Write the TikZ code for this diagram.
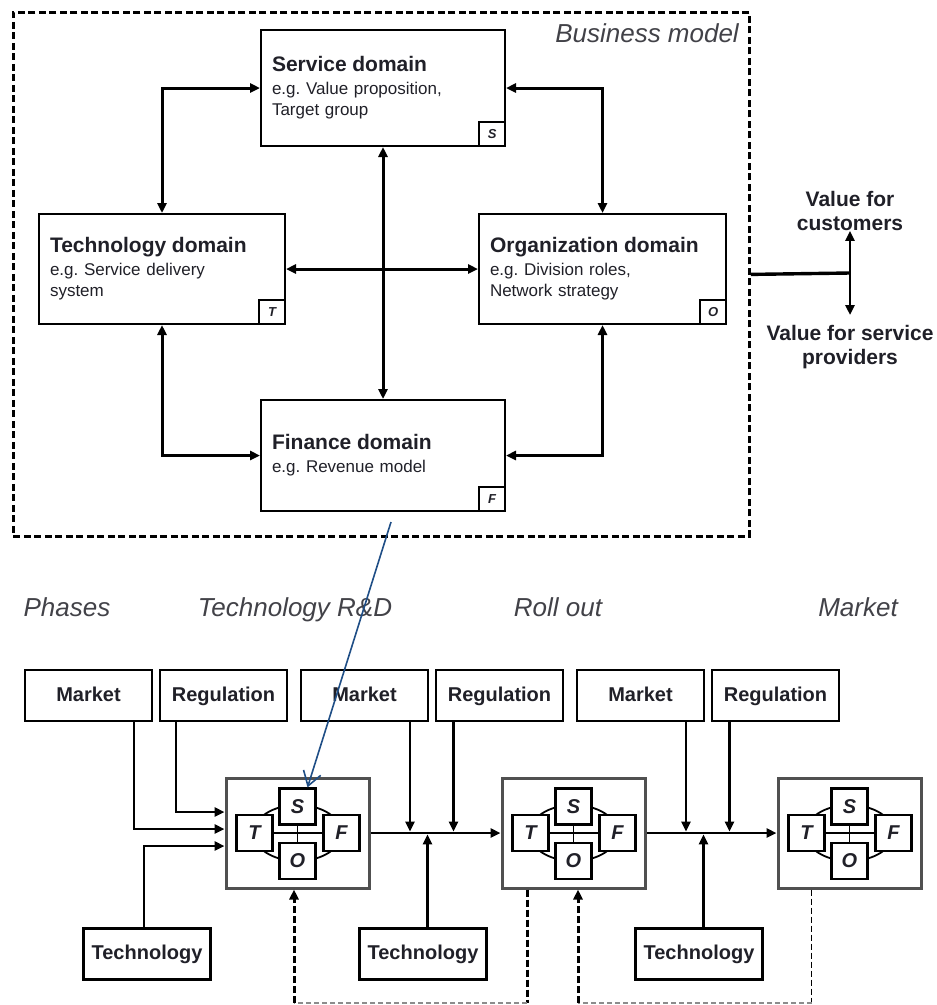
\documentclass[tikz,border=0pt]{standalone}
\usepackage{fontspec}
\setmainfont{Liberation Sans}
\usepackage{tikz}
\usetikzlibrary{arrows.meta, positioning, calc, backgrounds}
\definecolor{ink}{HTML}{202028}
\definecolor{framegray}{HTML}{505050}
\definecolor{linkblue}{HTML}{1F4E86}
\definecolor{trailgray}{HTML}{8C8C8C}

\newcommand{\titlefont}{\fontsize{21}{24}\selectfont\bfseries}
\newcommand{\notefont}{\fontsize{17}{21}\selectfont}
\newcommand{\phasefont}{\fontsize{26}{30}\selectfont\itshape}
\newcommand{\boxfont}{\fontsize{20}{24}\selectfont\bfseries}
\frenchspacing

\begin{document}
\begin{tikzpicture}[x=1pt, y=-1pt,
    dombox/.style={draw, line width=2pt, anchor=north west, align=left,
      inner xsep=11pt, font=\notefont, text=ink},
    cornertag/.style={draw, line width=1.6pt, anchor=south east, minimum width=26pt,
      minimum height=24pt, inner sep=0pt, text=ink,
      font=\fontsize{13}{13}\selectfont\bfseries\itshape},
    twoway/.style={line width=3pt,
      {Triangle[length=10pt,width=9pt]}-{Triangle[length=10pt,width=9pt]}},
    flow/.style={line width=2.8pt, -{Triangle[length=10pt,width=9pt]}},
    factorbox/.style={draw, line width=2.2pt, minimum width=127pt, minimum height=51pt,
      inner sep=0pt, text height=15pt, text depth=4pt, font=\boxfont, text=ink},
    phasebox/.style={draw=framegray, line width=3pt, minimum width=143pt,
      minimum height=110pt, inner sep=0pt},
    unitbox/.style={draw, fill=white, line width=2.2pt, minimum size=36pt, inner sep=0pt,
      text=ink, font=\fontsize{20}{20}\selectfont\bfseries\itshape},
    phasetitle/.style={font=\phasefont, text=ink!85, inner sep=0pt, anchor=base},
    heavydash/.style={line width=3pt, dash pattern=on 7pt off 3pt},
    thindash/.style={line width=1.5pt, dash pattern=on 6pt off 3pt},
    lightdash/.style={trailgray, line width=1.3pt, dash pattern=on 5pt off 3pt}]
  \useasboundingbox (0,0) rectangle (937,1005);

  % Business model frame
  \node[draw, line width=2.8pt, dash pattern=on 7pt off 3.5pt, minimum width=736pt,
    minimum height=524pt, anchor=north west, inner sep=0pt] (bm) at (12,11) {};
  \node[phasetitle, anchor=base east] (bmtitle) at (739,42) {Business model};

  % Domains
  \node[dombox, text width=222pt, minimum height=116pt] (svc) at (260,29)
    {{\titlefont Service domain}\\[2pt] e.g. Value proposition,\\ Target group};
  \node[dombox, text width=224pt, minimum height=110pt] (tec) at (38,213)
    {{\titlefont Technology domain}\\[2pt] e.g. Service delivery\\ system};
  \node[dombox, text width=225pt, minimum height=110pt] (org) at (478,213)
    {{\titlefont Organization domain}\\[2pt] e.g. Division roles,\\ Network strategy};
  \node[dombox, text width=222pt, minimum height=111pt] (fin) at (260,399)
    {{\titlefont Finance domain}\\[2pt] e.g. Revenue model};
  \node[cornertag] (svctag) at (svc.south east) {S};
  \node[cornertag] (tectag) at (tec.south east) {T};
  \node[cornertag] (orgtag) at (org.south east) {O};
  \node[cornertag] (fintag) at (fin.south east) {F};

  \draw[twoway] (svc.west) -| (tec.north);
  \draw[twoway] (svc.east) -| (org.north);
  \draw[twoway] (tec.south) |- (fin.west);
  \draw[twoway] (org.south) |- (fin.east);
  \draw[twoway] (svc.south) -- (fin.north);
  \draw[twoway] (tec.east) -- (org.west);

  % Value split
  \coordinate (split) at (850,273);
  \node[font=\titlefont, align=center, text=ink, inner sep=0pt] (vcust) at (850,211)
    {Value for\\customers};
  \node[font=\titlefont, align=center, text=ink, inner xsep=0pt, inner ysep=10pt,
    anchor=north] (vprov) at (850,315) {Value for service\\providers};
  \draw[line width=3.4pt] (bm.east) -- (split);
  \draw[flow] (split) -- (vcust.south);
  \draw[flow] (split) -- (vprov.north);

  % Phases
  \node[phasetitle] (phases) at (67,616) {Phases};
  \node[phasetitle] (rnd) at (295,616) {Technology R\&D};
  \node[phasetitle] (rollout) at (558,616) {Roll out};
  \node[phasetitle] (market) at (858,616) {Market};

  \foreach \i in {1,2,3} {
    \pgfmathsetmacro{\dx}{276*(\i-1)}
    \node[factorbox] (mkt\i) at (88.5+\dx,695.5) {Market};
    \node[factorbox] (reg\i) at (223.5+\dx,695.5) {Regulation};
    \node[factorbox] (tech\i) at (147+\dx,954) {Technology};
    \node[phasebox] (ph\i) at (297.5+\dx,833) {};
    \node[unitbox] (s\i) at ([yshift=26.5pt]ph\i.center) {S};
    \node[unitbox] (t\i) at ([xshift=-43pt]ph\i.center) {T};
    \node[unitbox] (f\i) at ([xshift=44pt]ph\i.center) {F};
    \node[unitbox] (o\i) at ([yshift=-28pt]ph\i.center) {O};
    \begin{scope}[on background layer]
      \draw[line width=1.8pt] (ph\i.center) ellipse [x radius=44pt, y radius=28pt];
      \draw[line width=1.8pt] (t\i) -- (f\i) (s\i) -- (o\i);
    \end{scope}
  }

  % Inputs of the first phase
  \draw[flow] ([xshift=-47.5pt]reg1.south) |- ([yshift=21pt]ph1.west);
  \draw[flow] ([xshift=45.5pt]mkt1.south) |- ([yshift=4pt]ph1.west);
  \draw[flow] ([xshift=-3pt]tech1.north) |- ([yshift=-13pt]ph1.west);

  % Flow between phases
  \foreach \i/\h in {2/1, 3/2} {
    \draw[flow] (ph\h.east) -- (ph\i.west);
    \coordinate (mdrop\i) at ([xshift=45.5pt]mkt\i.south);
    \coordinate (rdrop\i) at ([xshift=-46pt]reg\i.south);
    \coordinate (trise\i) at ([xshift=4.5pt]tech\i.north);
    \draw[flow] (mdrop\i) -- ([yshift=1.4pt]mdrop\i |- ph\i.west);
    \draw[flow] (rdrop\i) -- ([yshift=1.4pt]rdrop\i |- ph\i.west);
    \draw[flow] (trise\i) -- ([yshift=-1.4pt]trise\i |- ph\i.west);
  }

  % Feedback loops
  \coordinate (floor) at (0,1003);
  \coordinate (back2) at ([xshift=-46.5pt]ph2.south);
  \coordinate (into1) at ([xshift=-3.5pt]ph1.south);
  \coordinate (back3) at ([xshift=-38pt]ph3.south);
  \coordinate (into2) at ([xshift=4.5pt]ph2.south);
  \draw[heavydash] (back2) -- (back2 |- floor);
  \draw[lightdash] (back2 |- floor) -- (into1 |- floor);
  \draw[heavydash, -{Triangle[length=10pt,width=9pt]}] (into1 |- floor) -- (into1);
  \draw[thindash] (back3) -- (back3 |- floor);
  \draw[lightdash] (back3 |- floor) -- (into2 |- floor);
  \draw[heavydash, -{Triangle[length=10pt,width=9pt]}] (into2 |- floor) -- (into2);

  % Link to the business model
  \coordinate (finlink) at (391,522);
  \draw[linkblue, line width=1.6pt, -{Straight Barb[length=14pt,width=18pt]}]
    (finlink) -- ([xshift=10pt]s1.north);
\end{tikzpicture}
\end{document}
